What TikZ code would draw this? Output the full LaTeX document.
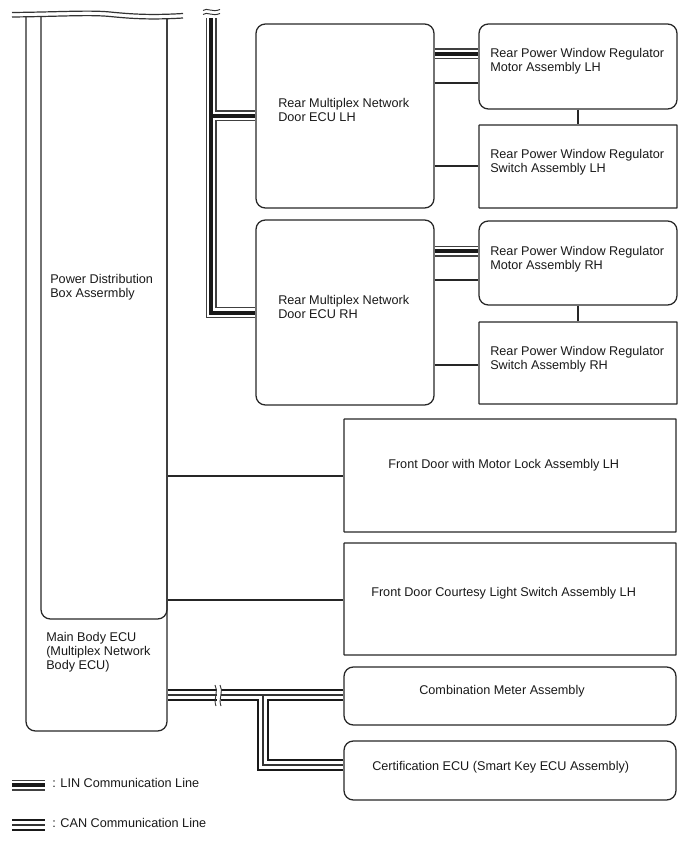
\documentclass[tikz,border=0pt]{standalone}
\usepackage{fontspec}
\setmainfont{Liberation Sans}
\usetikzlibrary{fit}
\begin{document}
\begin{tikzpicture}[x=0.75pt,y=-0.75pt,
  box/.style={draw=black!85, line width=0.95pt, inner sep=0pt, fill=none, rounded corners=0.3pt},
  rbox/.style={box, rounded corners=7pt},
  lbl/.style={anchor=west, align=left, font=\fontsize{9.5}{10.5}\selectfont, inner sep=0pt, text=black!90},
  wire/.style={draw=black!85, line width=0.8pt},
  linA/.style={draw=black!75, line width=8.25pt, line join=miter},
  linB/.style={draw=white, line width=6.5pt, line join=miter},
  linC/.style={draw=black!90, line width=3pt, line join=miter},
  canA/.style={draw=black!90, line width=9pt, line join=miter},
  canB/.style={draw=white, line width=6pt, line join=miter},
  canC/.style={draw=black!80, line width=0.8pt, line join=miter},
  wavy/.style={draw=black!80, line width=0.9pt}
]
\useasboundingbox (0,0) rectangle (688,852);

% Main Body ECU and Power Distribution Box
\node[rbox, fit={(26,0)(167,731)}] (mb) {};
\node[rbox, fit={(41,0)(167,619)}] (pdb) {};
\fill[white] (8,-2) -- (8,17) .. controls (60,16.5) and (90,14.5) .. (110,16.5) .. controls (130,18.5) and (150,20) .. (187,18) -- (187,-2) -- cycle;
\draw[wavy] (12,12.5) .. controls (60,12) and (90,10) .. (110,12) .. controls (130,14) and (150,15.5) .. (183,13.5);
\draw[wavy] (12,17) .. controls (60,16.5) and (90,14.5) .. (110,16.5) .. controls (130,18.5) and (150,20) .. (183,18);
\node[lbl] (pdbt) at (50,287) {Power Distribution\\Box Assermbly};
\node[lbl] (mbt) at (46,652) {Main Body ECU\\(Multiplex Network\\Body ECU)};

% Rear multiplex ECUs
\node[rbox, fit={(256,24)(434,208)}] (rmlh) {};
\node[rbox, fit={(256,220)(434,405)}] (rmrh) {};
\node[lbl] (rmlht) at (278,110) {Rear Multiplex Network\\Door ECU LH};
\node[lbl] (rmrht) at (278,307) {Rear Multiplex Network\\Door ECU RH};

% Window motors and switches
\node[rbox, fit={(479,24)(677,109)}] (mlh) {};
\node[box, fit={(479,125)(677,208)}] (slh) {};
\node[rbox, fit={(479,221)(677,305)}] (mrh) {};
\node[box, fit={(479,322)(677,404)}] (srh) {};
\node[lbl] (mlht) at (490,61) {Rear Power Window Regulator\\Motor Assembly LH};
\node[lbl] (slht) at (490,162) {Rear Power Window Regulator\\Switch Assembly LH};
\node[lbl] (mrht) at (490,259) {Rear Power Window Regulator\\Motor Assembly RH};
\node[lbl] (srht) at (490,359) {Rear Power Window Regulator\\Switch Assembly RH};

% Front door boxes
\node[box, fit={(344,419)(676,532)}] (fdml) {};
\node[box, fit={(344,543)(676,655)}] (fdcl) {};
\node[rbox, fit={(344,667)(676,725)}] (cm) {};
\node[rbox, fit={(344,741)(676,800)}] (cert) {};
\node[lbl] (fdmlt) at (388,465) {Front Door with Motor Lock Assembly LH};
\node[lbl] (fdclt) at (371,593) {Front Door Courtesy Light Switch Assembly LH};
\node[lbl] (cmt) at (419,691) {Combination Meter Assembly};
\node[lbl] (certt) at (372,767) {Certification ECU (Smart Key ECU Assembly)};

% Thin wires
\draw[wire] (rmlh.east |- 0,83) -- (mlh.west |- 0,83);
\draw[wire] (rmlh.east |- 0,166) -- (slh.west |- 0,166);
\draw[wire] (rmrh.east |- 0,280) -- (mrh.west |- 0,280);
\draw[wire] (rmrh.east |- 0,365) -- (srh.west |- 0,365);
\draw[wire] (mlh.south -| 578,0) -- (slh.north -| 578,0);
\draw[wire] (mrh.south -| 578,0) -- (srh.north -| 578,0);
\draw[wire] (mb.east |- 0,476) -- (fdml.west |- 0,476);
\draw[wire] (mb.east |- 0,600) -- (fdcl.west |- 0,600);

% LIN lines
\coordinate (lintop) at (211,18);
\foreach \s in {linA,linB,linC}{
  \draw[\s] (lintop) -- (lintop |- rmrh.west) -- (rmrh.west)
            (lintop |- rmlh.west) -- (rmlh.west)
            (rmlh.east |- 0,54) -- (mlh.west |- 0,54)
            (rmrh.east |- 0,251) -- (mrh.west |- 0,251);
}
\draw[wavy, line width=0.7pt] (203,10.5) .. controls (207,7) and (212,13) .. (220,9.5);
\draw[wavy, line width=0.7pt] (203,14.5) .. controls (207,11) and (212,17) .. (220,13.5);

% CAN lines
\coordinate (canj) at (263,695);
\foreach \s in {canA,canB,canC}{
  \draw[\s] (mb.east |- 0,695) -- (cm.west |- 0,695)
            (canj) -- (263,765) -- (cert.west |- 0,765);
}
\fill[white] (216.5,686) rectangle (220.5,704);
\draw[wavy, line width=0.7pt] (215,685) .. controls (219,691) and (213,699) .. (216,706);
\draw[wavy, line width=0.7pt] (220,685) .. controls (224,691) and (218,699) .. (221,706);

% Legend
\coordinate (lla) at (12,785);
\coordinate (llb) at (45,785);
\coordinate (cla) at (12,825);
\coordinate (clb) at (45,825);
\foreach \s in {linA,linB,linC}{ \draw[\s] (lla) -- (llb); }
\foreach \s in {canA,canB,canC}{ \draw[\s] (cla) -- (clb); }
\node[lbl] (lint) at (52,783) {: LIN Communication Line};
\node[lbl] (cant) at (52,823) {: CAN Communication Line};
\end{tikzpicture}
\end{document}
